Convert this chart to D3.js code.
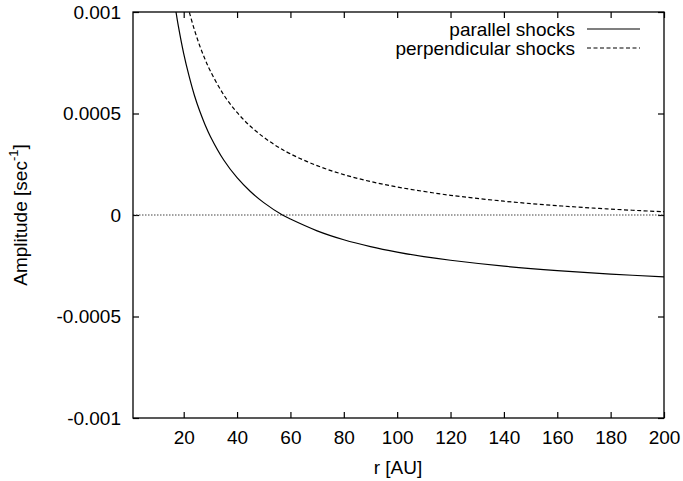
<!DOCTYPE html>
<html>
<head>
<meta charset="utf-8">
<script src="https://cdn.jsdelivr.net/npm/d3@7"></script>
<style>
  body { margin: 0; background: #fff; }
  svg { display: block; font-family: "Liberation Sans", Arial, Helvetica, sans-serif; }
  .tick text { font-size: 19px; fill: #000; }
</style>
</head>
<body>
<main></main>
<script>
// values, amplitude in units of 1e-3 sec^-1
const parR = [17, 18, 20, 22, 24, 26, 28, 30, 35, 40, 45, 50, 57, 60, 70, 80, 90, 100, 110, 120, 140, 160, 180, 200];
const parA = [1.01, 0.93, 0.795, 0.685, 0.59, 0.512, 0.445, 0.387, 0.271, 0.184, 0.116, 0.061, 0.0, -0.020, -0.078, -0.122, -0.156, -0.183, -0.205, -0.223, -0.252, -0.274, -0.291, -0.305];

const perpR = [21, 22, 24, 26, 28, 30, 35, 40, 45, 50, 55, 60, 70, 80, 90, 100, 110, 120, 140, 160, 180, 200];
const perpA = [1.06, 1.005, 0.913, 0.834, 0.767, 0.709, 0.592, 0.505, 0.437, 0.383, 0.338, 0.301, 0.243, 0.199, 0.165, 0.138, 0.116, 0.097, 0.068, 0.046, 0.029, 0.016];

const xTicks = [20, 40, 60, 80, 100, 120, 140, 160, 180, 200];
const yTicks = [-0.001, -0.0005, 0, 0.0005, 0.001];
const yTickLabels = ["-0.001", "-0.0005", "0", "0.0005", "0.001"];
const seriesNames = ["parallel shocks", "perpendicular shocks"];

const size = { width: 683, height: 481 };
const plot = { left: 133, right: 664, top: 12, bottom: 418 };

const svg = d3.select("main")
  .append("svg")
  .attr("width", size.width)
  .attr("height", size.height);

const xScale = d3.scaleLinear().domain([1, 200]).range([plot.left, plot.right]);
const yScale = d3.scaleLinear().domain([-0.001, 0.001]).range([plot.bottom, plot.top]);

svg.append("clipPath").attr("id", "clip")
  .append("rect")
  .attr("x", plot.left).attr("y", plot.top)
  .attr("width", plot.right - plot.left).attr("height", plot.bottom - plot.top);

// axes with inward ticks, mirrored on top and right
const tickLen = 6;
svg.append("g")
  .attr("transform", `translate(0, ${plot.bottom})`)
  .call(d3.axisBottom(xScale).tickValues(xTicks).tickSize(-tickLen).tickPadding(13));
svg.append("g")
  .attr("transform", `translate(0, ${plot.top})`)
  .call(d3.axisTop(xScale).tickValues(xTicks).tickSize(-tickLen).tickFormat(""));
svg.append("g")
  .attr("transform", `translate(${plot.left}, 0)`)
  .call(d3.axisLeft(yScale).tickValues(yTicks).tickSize(-tickLen).tickPadding(12)
    .tickFormat((d, i) => yTickLabels[i]));
svg.append("g")
  .attr("transform", `translate(${plot.right}, 0)`)
  .call(d3.axisRight(yScale).tickValues(yTicks).tickSize(-tickLen).tickFormat(""));

svg.selectAll(".domain").remove();
svg.selectAll(".tick line").attr("stroke", "#000").attr("stroke-width", 1.2);

// zero line
svg.append("line")
  .attr("x1", plot.left).attr("x2", plot.right)
  .attr("y1", yScale(0)).attr("y2", yScale(0))
  .attr("stroke", "#444").attr("stroke-width", 1.2)
  .attr("stroke-dasharray", "1.5,1.5");

const line = d3.line()
  .x(d => xScale(d[0]))
  .y(d => yScale(d[1] * 1e-3))
  .curve(d3.curveCatmullRom.alpha(0.5));

const curves = svg.append("g").attr("clip-path", "url(#clip)");
curves.append("path")
  .datum(d3.zip(parR, parA))
  .attr("d", line)
  .attr("fill", "none").attr("stroke", "#000").attr("stroke-width", 1.2);
curves.append("path")
  .datum(d3.zip(perpR, perpA))
  .attr("d", line)
  .attr("fill", "none").attr("stroke", "#000").attr("stroke-width", 1.2)
  .attr("stroke-dasharray", "4,2.5");

// border
svg.append("rect")
  .attr("x", plot.left).attr("y", plot.top)
  .attr("width", plot.right - plot.left).attr("height", plot.bottom - plot.top)
  .attr("fill", "none").attr("stroke", "#000").attr("stroke-width", 1.3);

// legend
const legend = svg.append("g").attr("font-size", 19);
seriesNames.forEach((name, i) => {
  const y = 29 + i * 19;
  legend.append("text")
    .attr("x", 575).attr("y", y).attr("dy", "0.35em")
    .attr("text-anchor", "end")
    .text(name);
  legend.append("line")
    .attr("x1", 587).attr("x2", 640).attr("y1", y).attr("y2", y)
    .attr("stroke", "#000").attr("stroke-width", 1.2)
    .attr("stroke-dasharray", i === 1 ? "4,2.5" : null);
});

// axis titles
svg.append("text")
  .attr("x", 398).attr("y", 467).attr("dy", "0.35em")
  .attr("text-anchor", "middle").attr("font-size", 19)
  .text("r [AU]");

const yTitle = svg.append("text")
  .attr("transform", `translate(20, ${(plot.top + plot.bottom) / 2}) rotate(-90)`)
  .attr("dy", "0.35em")
  .attr("text-anchor", "middle").attr("font-size", 19);
yTitle.append("tspan").text("Amplitude [sec");
yTitle.append("tspan").attr("font-size", 13).attr("dy", "-0.7em").text("-1");
yTitle.append("tspan").attr("dy", "0.45em").text("]");
</script>
</body>
</html>
